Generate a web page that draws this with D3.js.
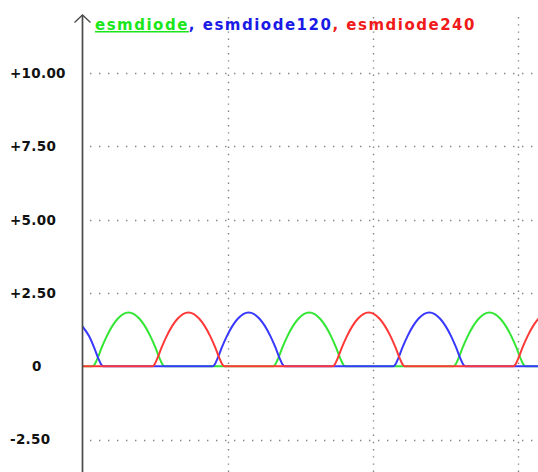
<!DOCTYPE html>
<html>
<head>
<meta charset="utf-8">
<script src="https://cdn.jsdelivr.net/npm/d3@7"></script>
<style>
  html, body { margin: 0; padding: 0; background: #ffffff; }
  svg { display: block; }
  text { font-family: "DejaVu Sans", Verdana, sans-serif; font-weight: bold; }
</style>
</head>
<body>
<svg id="chart" width="538" height="472"></svg>
<script>
// Series names shown in the legend
const seriesNames = ["esmdiode", "esmdiode120", "esmdiode240"];
const seriesColors = ["#33e633", "#3838ff", "#ff3838"];
const legendColors = ["#1ae61a", "#1a1ae6", "#f01a1a"];

// Diode voltages [time (ms), volts]
const esmdiode = [
  [0, 0], [0.27, 0], [0.32, 0.04], [0.42, 0.29], [0.52, 0.61], [0.67, 1.03], [0.82, 1.37], [0.97, 1.62],
  [1.12, 1.78], [1.27, 1.83], [1.42, 1.78], [1.57, 1.62], [1.72, 1.37], [1.87, 1.03], [2.02, 0.61],
  [2.12, 0.29], [2.22, 0.04], [2.27, 0],
  [5.25, 0], [5.30, 0.04], [5.40, 0.29], [5.50, 0.61], [5.65, 1.03], [5.80, 1.37], [5.95, 1.62],
  [6.10, 1.78], [6.25, 1.83], [6.40, 1.78], [6.55, 1.62], [6.70, 1.37], [6.85, 1.03], [7.00, 0.61],
  [7.10, 0.29], [7.20, 0.04], [7.25, 0],
  [10.22, 0], [10.27, 0.04], [10.37, 0.29], [10.47, 0.61], [10.62, 1.03], [10.77, 1.37], [10.92, 1.62],
  [11.07, 1.78], [11.22, 1.83], [11.37, 1.78], [11.52, 1.62], [11.67, 1.37], [11.82, 1.03], [11.97, 0.61],
  [12.07, 0.29], [12.17, 0.04], [12.22, 0], [12.7, 0]
];

const esmdiode120 = [
  [0, 1.36], [0.18, 1.03], [0.33, 0.61], [0.43, 0.29], [0.53, 0.04], [0.58, 0],
  [3.58, 0], [3.63, 0.04], [3.73, 0.29], [3.83, 0.61], [3.98, 1.03], [4.13, 1.37], [4.28, 1.62],
  [4.43, 1.78], [4.58, 1.83], [4.73, 1.78], [4.88, 1.62], [5.03, 1.37], [5.18, 1.03], [5.33, 0.61],
  [5.43, 0.29], [5.53, 0.04], [5.58, 0],
  [8.56, 0], [8.61, 0.04], [8.71, 0.29], [8.81, 0.61], [8.96, 1.03], [9.11, 1.37], [9.26, 1.62],
  [9.41, 1.78], [9.56, 1.83], [9.71, 1.78], [9.86, 1.62], [10.01, 1.37], [10.16, 1.03], [10.31, 0.61],
  [10.41, 0.29], [10.51, 0.04], [10.56, 0], [12.7, 0]
];

const esmdiode240 = [
  [0, 0], [1.92, 0], [1.97, 0.04], [2.07, 0.29], [2.17, 0.61], [2.32, 1.03], [2.47, 1.37], [2.62, 1.62],
  [2.77, 1.78], [2.92, 1.83], [3.07, 1.78], [3.22, 1.62], [3.37, 1.37], [3.52, 1.03], [3.67, 0.61],
  [3.77, 0.29], [3.87, 0.04], [3.92, 0],
  [6.89, 0], [6.94, 0.04], [7.04, 0.29], [7.14, 0.61], [7.29, 1.03], [7.44, 1.37], [7.59, 1.62],
  [7.74, 1.78], [7.89, 1.83], [8.04, 1.78], [8.19, 1.62], [8.34, 1.37], [8.49, 1.03], [8.64, 0.61],
  [8.74, 0.29], [8.84, 0.04], [8.89, 0],
  [11.87, 0], [11.92, 0.04], [12.02, 0.29], [12.12, 0.61], [12.27, 1.03], [12.42, 1.37], [12.57, 1.62],
  [12.72, 1.78]
];

// Axis ticks
const yTickValues = [10, 7.5, 5, 2.5, 0, -2.5];
const yTickLabels = ["+10.00", "+7.50", "+5.00", "+2.50", "0", "-2.50"];
const xGridTimes = [4, 8, 12];

const W = 538, H = 472;
const plotLeft = 82.5, plotRight = 538, plotTop = 15;

const x = d3.scaleLinear().domain([0, 12]).range([plotLeft, 517.8]);
const y = d3.scaleLinear().domain([-2.5, 10]).range([439.6, 73]);

const svg = d3.select("#chart");
svg.append("rect").attr("width", W).attr("height", H).attr("fill", "#ffffff");

svg.append("defs").append("clipPath").attr("id", "plotClip")
  .append("rect")
  .attr("x", plotLeft).attr("y", 0)
  .attr("width", plotRight - plotLeft).attr("height", H);

// Dotted grid
const grid = svg.append("g").attr("stroke", "#858585").attr("stroke-width", 1.4);
grid.selectAll("line.h")
  .data(yTickValues.filter(v => v !== 0))
  .join("line")
  .attr("class", "h")
  .attr("x1", plotLeft + 7.5).attr("x2", plotRight)
  .attr("y1", d => Math.round(y(d)) + 0.5).attr("y2", d => Math.round(y(d)) + 0.5)
  .attr("stroke-dasharray", "1.4,7.6");
grid.selectAll("line.v")
  .data(xGridTimes)
  .join("line")
  .attr("class", "v")
  .attr("x1", d => Math.round(x(d)) + 0.5).attr("x2", d => Math.round(x(d)) + 0.5)
  .attr("y1", plotTop + 2).attr("y2", H)
  .attr("stroke-dasharray", "1.4,5.8");

// Voltage traces
const line = d3.line()
  .x(d => x(d[0]))
  .y(d => y(d[1]))
  .curve(d3.curveMonotoneX);

const traces = [esmdiode, esmdiode120, esmdiode240];
svg.append("g").attr("clip-path", "url(#plotClip)")
  .selectAll("path")
  .data(traces)
  .join("path")
  .attr("d", d => line(d))
  .attr("fill", "none")
  .attr("stroke", (d, i) => seriesColors[i])
  .attr("stroke-width", 2)
  .attr("stroke-linejoin", "round");

// Y axis with arrow head
const axis = svg.append("g").attr("stroke", "#4a4a4a").attr("fill", "none");
axis.append("line")
  .attr("x1", plotLeft).attr("x2", plotLeft)
  .attr("y1", plotTop).attr("y2", H)
  .attr("stroke-width", 1.7);
axis.append("path")
  .attr("d", `M${plotLeft - 8},${plotTop + 7.5} L${plotLeft},${plotTop} L${plotLeft + 8},${plotTop + 7.5}`)
  .attr("stroke-width", 1.3);

// Y tick labels
svg.append("g")
  .selectAll("text")
  .data(yTickValues)
  .join("text")
  .attr("x", (d, i) => yTickLabels[i] === "0" ? 32 : 10)
  .attr("y", d => y(d))
  .attr("dy", "0.36em")
  .attr("font-size", 13.5)
  .attr("letter-spacing", 0.3)
  .attr("fill", "#111111")
  .text((d, i) => yTickLabels[i]);

// Legend: names joined by commas, each comma in the colour of the next name
const legend = svg.append("text")
  .attr("x", 95)
  .attr("y", 30)
  .attr("font-size", 15)
  .attr("letter-spacing", 1.5);
seriesNames.forEach((name, i) => {
  if (i > 0) {
    legend.append("tspan").attr("fill", legendColors[i]).text(", ");
  }
  const t = legend.append("tspan").attr("fill", legendColors[i]).text(name);
  if (i === 0) t.attr("text-decoration", "underline");
});
</script>
</body>
</html>
